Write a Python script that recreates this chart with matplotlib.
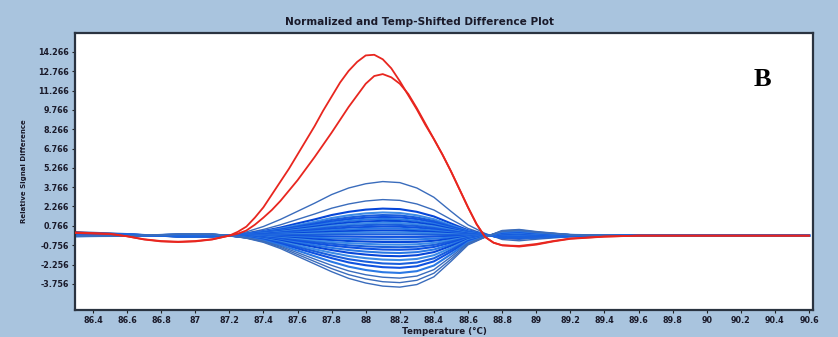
import matplotlib
matplotlib.use('Agg')
import matplotlib.pyplot as plt

# temperature grid (deg C) for the blue curves
temps = [86.3, 86.6, 86.9, 87.1, 87.2, 87.3, 87.4, 87.5, 87.6, 87.7, 87.8, 87.9, 88.0,
         88.1, 88.2, 88.3, 88.4, 88.5, 88.6, 88.7, 88.8, 88.9, 89.0, 89.2, 89.5, 90.6]

# finer grid for the two red outliers
red_temps = [86.3, 86.5, 86.6, 86.7, 86.8, 86.9, 87.0, 87.1, 87.15,
             87.2, 87.25, 87.3, 87.35, 87.4, 87.45, 87.5, 87.55, 87.6, 87.65, 87.7,
             87.75, 87.8, 87.85, 87.9, 87.95, 88.0, 88.05, 88.1, 88.15, 88.2, 88.25,
             88.3, 88.35, 88.4, 88.45, 88.5, 88.55, 88.6, 88.65, 88.7, 88.75, 88.8,
             88.9, 89.0, 89.1, 89.2, 89.4, 89.6, 90.0, 90.6]

red_outer = [0.25, 0.15, -0.05, -0.3, -0.45, -0.5, -0.45, -0.3, -0.15,
             0.0, 0.3, 0.7, 1.4, 2.2, 3.2, 4.2, 5.2, 6.3, 7.4, 8.5,
             9.7, 10.8, 11.9, 12.8, 13.5, 14.0, 14.05, 13.7, 13.0, 12.0, 10.9,
             9.8, 8.6, 7.5, 6.3, 5.0, 3.6, 2.2, 0.9, -0.1, -0.55, -0.75,
             -0.85, -0.7, -0.45, -0.25, -0.08, 0.0, 0.0, 0.0]
red_inner = [0.2, 0.12, -0.05, -0.28, -0.42, -0.47, -0.42, -0.28, -0.14,
             0.0, 0.15, 0.4, 0.85, 1.4, 2.0, 2.7, 3.5, 4.3, 5.2, 6.1,
             7.05, 8.0, 9.0, 10.0, 10.9, 11.8, 12.4, 12.55, 12.3, 11.8, 11.0,
             9.9, 8.7, 7.5, 6.3, 5.0, 3.6, 2.2, 0.9, -0.1, -0.55, -0.75,
             -0.8, -0.65, -0.42, -0.22, -0.07, 0.0, 0.0, 0.0]

# the reference group (blue)
blue_curves = [
    [0.3, 0.15, -0.12, -0.1, 0.0, 0.29, 0.71, 1.26, 1.89, 2.52, 3.19, 3.70, 4.03, 4.20, 4.12, 3.70, 2.98, 1.89, 0.84, 0.17, -0.3, -0.4, -0.28, -0.08, 0.0, 0.0],
    [0.25, 0.12, -0.08, -0.08, 0.0, 0.20, 0.48, 0.84, 1.26, 1.68, 2.13, 2.46, 2.69, 2.80, 2.74, 2.46, 1.99, 1.26, 0.56, 0.11, -0.22, -0.28, -0.2, -0.06, 0.0, 0.0],
    [0.22, 0.1, -0.06, -0.06, 0.0, 0.15, 0.36, 0.63, 0.95, 1.26, 1.60, 1.85, 2.02, 2.10, 2.06, 1.85, 1.49, 0.95, 0.42, 0.08, -0.17, -0.21, -0.15, -0.04, 0.0, 0.0],
    [0.2, 0.1, -0.05, -0.05, 0.0, 0.13, 0.31, 0.54, 0.81, 1.08, 1.37, 1.58, 1.73, 1.80, 1.76, 1.58, 1.28, 0.81, 0.36, 0.07, -0.14, -0.18, -0.13, -0.04, 0.0, 0.0],
    [0.18, 0.08, -0.05, -0.05, 0.0, 0.11, 0.27, 0.48, 0.72, 0.96, 1.22, 1.41, 1.54, 1.60, 1.57, 1.41, 1.14, 0.72, 0.32, 0.06, -0.13, -0.16, -0.11, -0.03, 0.0, 0.0],
    [0.16, 0.08, -0.04, -0.04, 0.0, 0.10, 0.25, 0.44, 0.65, 0.87, 1.10, 1.28, 1.39, 1.45, 1.42, 1.28, 1.03, 0.65, 0.29, 0.06, -0.12, -0.15, -0.1, -0.03, 0.0, 0.0],
    [0.15, 0.07, -0.04, -0.04, 0.0, 0.09, 0.22, 0.39, 0.59, 0.78, 0.99, 1.14, 1.25, 1.30, 1.27, 1.14, 0.92, 0.59, 0.26, 0.05, -0.1, -0.13, -0.09, -0.03, 0.0, 0.0],
    [0.14, 0.06, -0.03, -0.03, 0.0, 0.08, 0.20, 0.35, 0.52, 0.69, 0.87, 1.01, 1.10, 1.15, 1.13, 1.01, 0.82, 0.52, 0.23, 0.05, -0.09, -0.12, -0.08, -0.02, 0.0, 0.0],
    [0.12, 0.06, -0.03, -0.03, 0.0, 0.07, 0.17, 0.30, 0.45, 0.60, 0.76, 0.88, 0.96, 1.00, 0.98, 0.88, 0.71, 0.45, 0.20, 0.04, -0.08, -0.1, -0.07, -0.02, 0.0, 0.0],
    [0.11, 0.05, -0.03, -0.03, 0.0, 0.06, 0.14, 0.26, 0.38, 0.51, 0.65, 0.75, 0.82, 0.85, 0.83, 0.75, 0.60, 0.38, 0.17, 0.03, -0.07, -0.09, -0.06, -0.02, 0.0, 0.0],
    [0.1, 0.05, -0.02, -0.02, 0.0, 0.05, 0.12, 0.21, 0.32, 0.42, 0.53, 0.62, 0.67, 0.70, 0.69, 0.62, 0.50, 0.32, 0.14, 0.03, -0.06, -0.07, -0.05, -0.01, 0.0, 0.0],
    [0.08, 0.04, -0.02, -0.02, 0.0, 0.04, 0.09, 0.17, 0.25, 0.33, 0.42, 0.48, 0.53, 0.55, 0.54, 0.48, 0.39, 0.25, 0.11, 0.02, -0.04, -0.06, -0.04, -0.01, 0.0, 0.0],
    [0.07, 0.03, -0.01, -0.01, 0.0, 0.03, 0.07, 0.12, 0.18, 0.24, 0.30, 0.35, 0.38, 0.40, 0.39, 0.35, 0.28, 0.18, 0.08, 0.02, -0.03, -0.04, -0.03, -0.01, 0.0, 0.0],
    [0.05, 0.02, -0.01, -0.01, 0.0, 0.02, 0.04, 0.08, 0.11, 0.15, 0.19, 0.22, 0.24, 0.25, 0.25, 0.22, 0.18, 0.11, 0.05, 0.01, -0.02, -0.03, -0.02, 0.0, 0.0, 0.0],
    [0.03, 0.01, 0.0, 0.0, 0.0, 0.01, 0.02, 0.03, 0.05, 0.06, 0.08, 0.09, 0.10, 0.10, 0.10, 0.09, 0.07, 0.05, 0.02, 0.0, -0.01, -0.01, -0.01, 0.0, 0.0, 0.0],
    [0.05, 0.02, 0.0, 0.0, 0.0, -0.01, -0.01, -0.03, -0.04, -0.06, -0.07, -0.08, -0.09, -0.10, -0.10, -0.10, -0.08, -0.05, -0.02, 0.0, 0.01, 0.01, 0.01, 0.0, 0.0, 0.0],
    [0.04, 0.02, 0.01, 0.01, 0.0, -0.02, -0.04, -0.08, -0.12, -0.17, -0.21, -0.25, -0.28, -0.29, -0.30, -0.29, -0.24, -0.15, -0.05, -0.01, 0.03, 0.04, 0.02, 0.01, 0.0, 0.0],
    [0.03, 0.01, 0.02, 0.02, 0.0, -0.03, -0.07, -0.13, -0.20, -0.28, -0.35, -0.42, -0.46, -0.49, -0.50, -0.48, -0.40, -0.25, -0.09, -0.02, 0.05, 0.06, 0.04, 0.01, 0.0, 0.0],
    [0.03, 0.01, 0.02, 0.02, 0.0, -0.04, -0.09, -0.18, -0.28, -0.39, -0.49, -0.58, -0.64, -0.69, -0.70, -0.67, -0.56, -0.35, -0.13, -0.02, 0.07, 0.08, 0.06, 0.01, 0.0, 0.0],
    [0.02, 0.01, 0.03, 0.03, 0.0, -0.05, -0.12, -0.23, -0.36, -0.50, -0.63, -0.75, -0.83, -0.88, -0.90, -0.86, -0.72, -0.45, -0.16, -0.03, 0.09, 0.11, 0.07, 0.02, 0.0, 0.0],
    [0.02, 0.01, 0.03, 0.03, 0.0, -0.06, -0.14, -0.28, -0.44, -0.61, -0.77, -0.91, -1.01, -1.08, -1.10, -1.05, -0.88, -0.55, -0.20, -0.03, 0.11, 0.13, 0.09, 0.02, 0.0, 0.0],
    [0.01, 0.0, 0.04, 0.04, 0.0, -0.07, -0.18, -0.34, -0.54, -0.74, -0.95, -1.12, -1.24, -1.32, -1.35, -1.28, -1.08, -0.68, -0.24, -0.04, 0.14, 0.16, 0.11, 0.03, 0.0, 0.0],
    [0.0, 0.0, 0.05, 0.05, 0.0, -0.08, -0.21, -0.40, -0.64, -0.88, -1.12, -1.33, -1.47, -1.57, -1.60, -1.52, -1.28, -0.80, -0.29, -0.05, 0.16, 0.19, 0.13, 0.03, 0.0, 0.0],
    [-0.01, 0.0, 0.06, 0.06, 0.0, -0.10, -0.25, -0.48, -0.76, -1.05, -1.33, -1.58, -1.75, -1.86, -1.90, -1.81, -1.52, -0.95, -0.34, -0.06, 0.19, 0.23, 0.15, 0.04, 0.0, 0.0],
    [-0.02, -0.01, 0.07, 0.07, 0.0, -0.11, -0.29, -0.55, -0.88, -1.21, -1.54, -1.83, -2.02, -2.16, -2.20, -2.09, -1.76, -1.10, -0.40, -0.07, 0.22, 0.26, 0.18, 0.04, 0.0, 0.0],
    [-0.03, -0.01, 0.08, 0.08, 0.0, -0.13, -0.33, -0.63, -1.00, -1.38, -1.75, -2.08, -2.30, -2.45, -2.50, -2.38, -2.00, -1.25, -0.45, -0.08, 0.25, 0.3, 0.2, 0.05, 0.0, 0.0],
    [-0.04, -0.02, 0.09, 0.09, 0.0, -0.15, -0.38, -0.73, -1.16, -1.60, -2.03, -2.41, -2.67, -2.84, -2.90, -2.76, -2.32, -1.45, -0.52, -0.09, 0.29, 0.35, 0.23, 0.06, 0.0, 0.0],
    [-0.05, -0.02, 0.1, 0.1, 0.0, -0.17, -0.43, -0.83, -1.32, -1.82, -2.31, -2.74, -3.04, -3.23, -3.30, -3.14, -2.64, -1.65, -0.59, -0.10, 0.33, 0.4, 0.26, 0.07, 0.0, 0.0],
    [-0.06, -0.02, 0.11, 0.11, 0.0, -0.18, -0.47, -0.91, -1.46, -2.01, -2.56, -3.03, -3.36, -3.58, -3.65, -3.47, -2.92, -1.83, -0.66, -0.11, 0.37, 0.44, 0.29, 0.07, 0.0, 0.0],
    [-0.07, -0.03, 0.12, 0.12, 0.0, -0.20, -0.52, -1.00, -1.60, -2.20, -2.80, -3.32, -3.68, -3.92, -4.00, -3.80, -3.20, -2.00, -0.72, -0.12, 0.4, 0.48, 0.32, 0.08, 0.0, 0.0],
]

xticks = [86.4, 86.6, 86.8, 87.0, 87.2, 87.4, 87.6, 87.8, 88.0, 88.2, 88.4, 88.6, 88.8,
          89.0, 89.2, 89.4, 89.6, 89.8, 90.0, 90.2, 90.4, 90.6]
xtick_labels = ["86.4", "86.6", "86.8", "87", "87.2", "87.4", "87.6", "87.8", "88", "88.2",
                "88.4", "88.6", "88.8", "89", "89.2", "89.4", "89.6", "89.8", "90", "90.2",
                "90.4", "90.6"]
yticks = [14.266, 12.766, 11.266, 9.766, 8.266, 6.766, 5.266, 3.766, 2.266, 0.766,
          -0.756, -2.256, -3.756]
ytick_labels = ["14.266", "12.766", "11.266", "9.766", "8.266", "6.766", "5.266", "3.766",
                "2.266", "0.766", "-0.756", "-2.256", "-3.756"]

bg = '#a9c4de'
fig = plt.figure(figsize=(8.38, 3.37), dpi=100, facecolor=bg)
ax = fig.add_axes([0.0895, 0.080, 0.881, 0.822])
ax.set_facecolor('white')

blue_palette = ['#0f52e0', '#2a78e4', '#0646d8', '#3d8be6', '#1a5fdc']
n = len(blue_curves)
for i, ys in enumerate(blue_curves):
    if i in (0, 1, n - 1, n - 2, n - 3):
        c, lw = '#3a6cbc', 1.0
    else:
        c, lw = blue_palette[i % len(blue_palette)], 1.5
    ax.plot(temps, ys, color=c, lw=lw, zorder=2, solid_joinstyle='round')

for ys in (red_outer, red_inner):
    ax.plot(red_temps, ys, color='#e8261f', lw=1.3, zorder=3)

ax.set_xlim(86.295, 90.625)
ax.set_ylim(-5.78, 15.74)
ax.set_xticks(xticks)
ax.set_xticklabels(xtick_labels)
ax.set_yticks(yticks)
ax.set_yticklabels(ytick_labels)
ax.tick_params(axis='both', labelsize=5.8, length=2.5, width=0.8, color='#222222',
               labelcolor='#1a1a2a', pad=2)
for lab in ax.get_xticklabels() + ax.get_yticklabels():
    lab.set_fontweight('bold')

for s in ax.spines.values():
    s.set_color('#2a3340')
    s.set_linewidth(1.6)

ax.set_xlabel("Temperature (\u00b0C)", fontsize=6.3, fontweight='bold', color='#1a1a2a', labelpad=1)
ax.set_ylabel("Relative Signal Difference", fontsize=5, fontweight='bold', color='#1a1a2a', labelpad=8)
fig.text(0.5, 0.935, "Normalized and Temp-Shifted Difference Plot", ha='center', va='center',
         fontsize=7.6, fontweight='bold', color='#1a1a2a')

fig.text(762 / 838, 1 - 80 / 337, "B", ha='center', va='center', fontsize=19,
         fontweight='bold', family='Liberation Serif', color='black')

fig.savefig("out.png", dpi=100, facecolor=bg)
